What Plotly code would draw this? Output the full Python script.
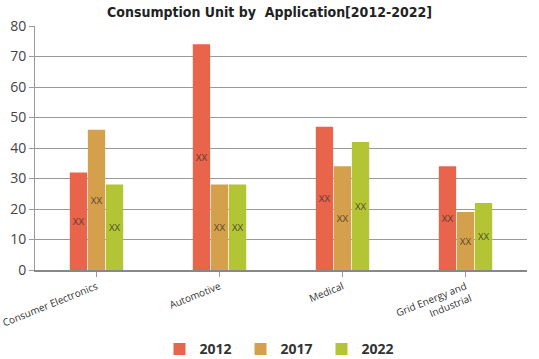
import plotly.graph_objects as go

categories = ["Consumer Electronics", "Automotive", "Medical", "Grid Energy and<br>Industrial"]
years = ["2012", "2017", "2022"]
values_2012 = [32, 74, 47, 34]
values_2017 = [46, 28, 34, 19]
values_2022 = [28, 28, 42, 22]
labels = ["XX", "XX", "XX", "XX"]
y_ticks = [0, 10, 20, 30, 40, 50, 60, 70, 80]

colors = ["#e8644b", "#d4a04c", "#b3c435"]
series = [values_2012, values_2017, values_2022]

fig = go.Figure()
for name, vals, col in zip(years, series, colors):
    fig.add_trace(go.Bar(
        x=categories, y=vals, name="<b>" + name + "</b>", marker_color=col,
        marker_line_width=0,
        text=labels, textposition="inside", insidetextanchor="middle",
        textangle=0, textfont=dict(color="rgba(60,50,40,0.85)", size=12, family="Open Sans"),
        hoverinfo="skip",
    ))

fig.update_layout(
    width=539, height=359,
    margin=dict(l=35, r=12, t=26, b=89, autoexpand=False),
    paper_bgcolor="white", plot_bgcolor="white",
    barmode="group", bargap=0.56, bargroupgap=0.04,
    title=dict(text="<b>Consumption Unit by  Application[2012-2022]</b>",
               x=0.5, xanchor="center", y=0.98, yanchor="top",
               font=dict(family="Liberation Sans Narrow, DejaVu Sans Condensed, DejaVu Sans",
                         size=14, color="#222")),
    showlegend=True,
    legend=dict(orientation="h", x=0.5, xanchor="center", y=-0.325, yanchor="middle",
                font=dict(family="Open Sans", size=14, color="#333"),
                itemwidth=30, entrywidth=36, entrywidthmode="pixels",
                traceorder="normal", borderwidth=0),
    uniformtext=dict(minsize=8, mode="show"),
)

fig.update_yaxes(range=[0, 80], tickvals=y_ticks, showgrid=True, gridcolor="#999",
                 gridwidth=1, showline=True, linecolor="#999", linewidth=1,
                 ticks="outside", ticklen=5, tickcolor="#999", automargin=False,
                 tickfont=dict(family="Open Sans", size=14, color="#444"), zeroline=False)
fig.update_xaxes(showline=True, linecolor="#888", linewidth=2, ticks="outside",
                 ticklen=5, tickcolor="#999", tickangle=-22, automargin=False,
                 tickfont=dict(family="Open Sans", size=10, color="#333"))

fig.write_html("out.html", config={"displayModeBar": False},
               post_script="document.body.style.margin='0';")
